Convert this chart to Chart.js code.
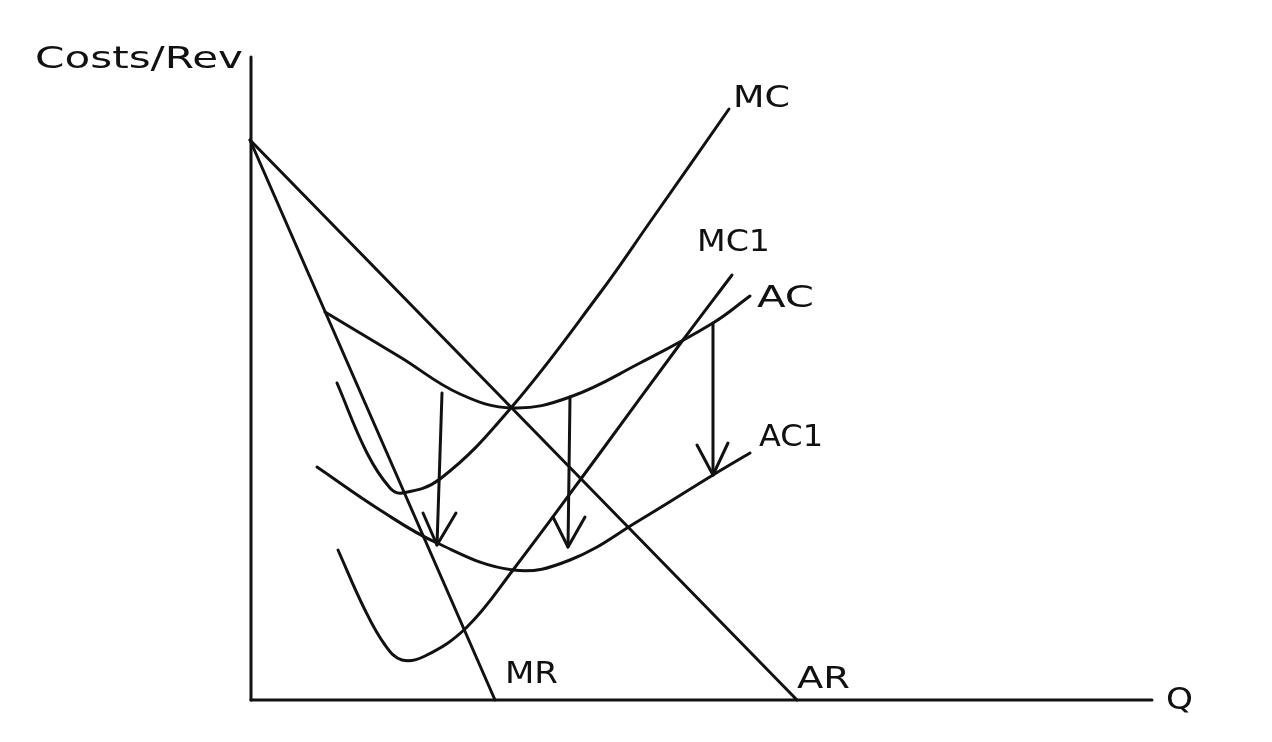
<!DOCTYPE html>
<html>
<head>
<meta charset="utf-8">
<script src="https://cdn.jsdelivr.net/npm/chart.js@4.4.1/dist/chart.umd.min.js"></script>
<style>
  body { margin: 0; background: #fff; }
  canvas { display: block; }
</style>
</head>
<body>
<canvas id="mychart" width="1272" height="742"></canvas>
<script>
// curve points (x = quantity, y = costs/revenue)
var mcPoints  = [[86,317],[116,247],[139,212],[151,207],[189,221],[259,291],[349,407],[399,478],[478,591]];
var acPoints  = [[74,388],[149,343],[209,306],[262,292],[319,303],[389,337],[462,377],[499,404]];
var mc1Points = [[87,150],[113,92],[134,55],[151,40],[174,44],[216,73],[262,130],[349,247],[429,356],[481,425]];
var ac1Points = [[66,233],[129,190],[186,157],[262,130],[319,140],[389,180],[462,225],[499,247]];
var arPoints  = [[-1,560],[546,0]];
var mrPoints  = [[-1,560],[244,0]];

// the three "costs fall" arrows: shaft top, tip, and the two head ends
var arrowTops = [[191,307],[319,303],[462,377]];
var arrowTips = [[186,155],[317,153],[462,225]];
var headLeft  = [[172,187],[302,183],[446,255]];
var headRight = [[205,187],[334,183],[477,257]];

// axes
var yAxisLine = [[0,0],[0,643]];
var xAxisLine = [[0,0],[901,0]];

// labels: text, x, y, drawn width
var labelText = ['Costs/Rev','MC','MC1','AC','AC1','MR','AR','Q'];
var labelPos  = [[-216,640],[482,601],[446,457],[506,401],[508,262],[254,25],[546,20],[915,-1]];
var labelWide = [208,57,73,57,64,53,53,27];

function pts(arr) {
    return arr.map(function(p){ return {x:p[0], y:p[1]}; });
}

var ink = '#111';
var datasets = [];
function addLine(arr, smooth) {
    datasets.push({
        data: pts(arr),
        borderColor: ink,
        borderWidth: 3,
        pointRadius: 0,
        fill: false,
        clip: false,
        tension: smooth ? 0.4 : 0,
        borderCapStyle: 'round',
        borderJoinStyle: 'round'
    });
}

addLine(yAxisLine, false);
addLine(xAxisLine, false);
addLine(arPoints, false);
addLine(mrPoints, false);
addLine(mcPoints, true);
addLine(acPoints, true);
addLine(mc1Points, true);
addLine(ac1Points, true);
for (var i = 0; i < arrowTops.length; i++) {
    addLine([arrowTips[i], arrowTops[i]].sort(function(a,b){return a[0]-b[0];}), false);
    addLine([headLeft[i], arrowTips[i], headRight[i]], false);
}

var labelPlugin = {
    id: 'sketchLabels',
    afterDatasetsDraw: function(chart) {
        var ctx = chart.ctx;
        var xs = chart.scales.x, ys = chart.scales.y;
        ctx.save();
        ctx.fillStyle = ink;
        ctx.font = '30px "DejaVu Sans"';
        ctx.textBaseline = 'middle';
        ctx.textAlign = 'left';
        for (var i = 0; i < labelText.length; i++) {
            var px = xs.getPixelForValue(labelPos[i][0]);
            var py = ys.getPixelForValue(labelPos[i][1]);
            var w = ctx.measureText(labelText[i]).width;
            ctx.save();
            ctx.translate(px, py);
            ctx.scale(labelWide[i] / w, 1);
            ctx.fillText(labelText[i], 0, 0);
            ctx.restore();
        }
        ctx.restore();
    }
};

var ctx = document.getElementById('mychart').getContext('2d');
var sketch = new Chart(ctx, {
    type: 'line',
    data: { datasets: datasets },
    options: {
        responsive: false,
        animation: false,
        layout: { padding: { left: 251, right: 121, top: 57, bottom: 42 } },
        plugins: { legend: { display: false }, tooltip: { enabled: false } },
        scales: {
            x: { type: 'linear', min: 0, max: 900, display: false },
            y: { type: 'linear', min: 0, max: 643, display: false }
        }
    },
    plugins: [labelPlugin]
});
</script>
</body>
</html>
